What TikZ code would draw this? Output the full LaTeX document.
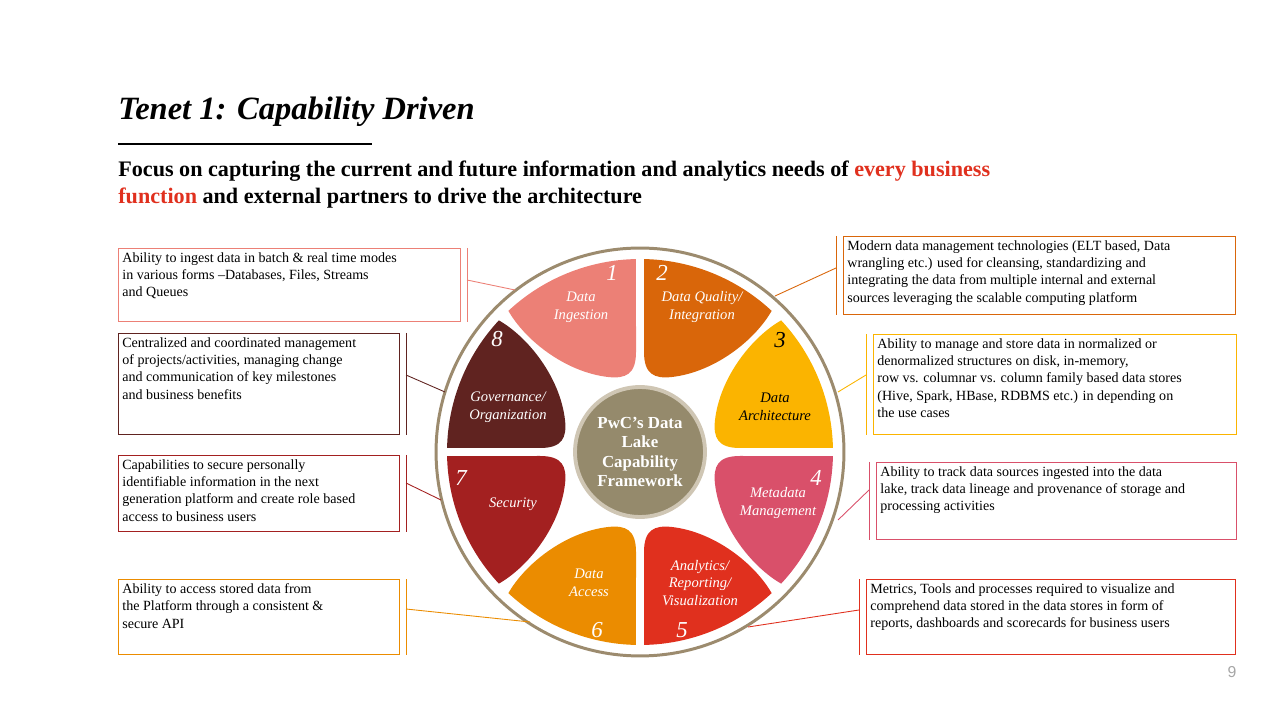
\documentclass[tikz,border=0pt]{standalone}
\usepackage{fontspec}
\setmainfont{Liberation Serif}
\setsansfont{Liberation Sans}
\usepackage{tikz}
\usetikzlibrary{positioning}
\definecolor{pA}{HTML}{EC8076}
\definecolor{pB}{HTML}{D9660A}
\definecolor{pC}{HTML}{FBB400}
\definecolor{pD}{HTML}{D9506A}
\definecolor{pE}{HTML}{E0301E}
\definecolor{pF}{HTML}{EB8C00}
\definecolor{pG}{HTML}{A32020}
\definecolor{pH}{HTML}{602320}
\definecolor{ring}{HTML}{9C8B6E}
\definecolor{hub}{HTML}{958A6C}
\definecolor{hubrim}{HTML}{CFC6B4}
\tikzset{
  % text boxes around the wheel
  desc/.style={
    draw=#1, anchor=north west, inner sep=0.08cm,
    font=\fontsize{8}{9.9}\selectfont
  },
  % thin bracket lines and leaders
  lead/.style={draw=#1, line width=0.5pt},
  % petal captions
  plabel/.style={
    text=white, align=center, font=\fontsize{8.3}{10}\selectfont\itshape
  },
  num/.style={text=white, font=\fontsize{13}{13}\selectfont\itshape}
}
\begin{document}
\begin{tikzpicture}[x=0.02cm, y=0.02cm]
  \useasboundingbox (0,0) rectangle (1280,720);

  % title block
  \node[anchor=base west, inner sep=0, font=\fontsize{18.5}{20}\selectfont\bfseries\itshape] (title) at (118,600) {Tenet 1: Capability Driven};
  \draw[line width=1pt] (118,576) -- (372,576);
  \node[anchor=base west, inner sep=0, align=left, font=\fontsize{12.6}{15.9}\selectfont\bfseries] (focus) at (118,516)
    {Focus on capturing the current and future information and analytics needs of \textcolor{pE}{every business}\\
     \textcolor{pE}{function} and external partners to drive the architecture};

  % wheel
  \draw[ring, line width=1.7pt] (640,268) circle (4.08cm);
  \foreach \k/\rot/\flip/\col in {1/0/-1/pA, 2/0/1/pB, 3/-90/-1/pC, 4/-90/1/pD,
                                  5/-180/-1/pE, 6/-180/1/pF, 7/90/-1/pG, 8/90/1/pH}{
    \begin{scope}[shift={(640,268)}, rotate=\rot, xscale=\flip]
      \fill[\col] (88.8:193) -- (4,100) .. controls (4,78) and (14,73) .. (32,75)
        .. controls (75,80) and (115,112) .. (47:193)
        arc[start angle=47, end angle=88.8, radius=3.86cm] -- cycle;
    \end{scope}
  }
  \node[circle, fill=hub, draw=hubrim, line width=2.2pt, minimum size=2.6cm,
        text=white, align=center, font=\fontsize{9.6}{11}\selectfont\bfseries] (hubnode) at (640,268)
    {PwC’s Data\\Lake\\Capability\\Framework};

  % numbers
  \node[num] (n1) at (612,447) {1};
  \node[num] (n2) at (662,447) {2};
  \node[num, text=black] (n3) at (780,380) {3};
  \node[num] (n4) at (816,242) {4};
  \node[num] (n5) at (682,90) {5};
  \node[num] (n6) at (597,90) {6};
  \node[num] (n7) at (461,242) {7};
  \node[num] (n8) at (497,381) {8};

  % captions
  \node[plabel] (c1) at (581,413) {Data\\Ingestion};
  \node[plabel] (c2) at (702,413) {Data Quality/\\Integration};
  \node[plabel, text=black] (c3) at (775,313) {Data\\Architecture};
  \node[plabel] (c4) at (778,217) {Metadata\\Management};
  \node[plabel] (c5) at (700,137) {Analytics/\\Reporting/\\Visualization};
  \node[plabel] (c6) at (589,137) {Data\\Access};
  \node[plabel] (c7) at (513,216) {Security};
  \node[plabel] (c8) at (508,313) {Governance/\\Organization};

  % left descriptions
  \node[desc=pA] (b1) at (118,472) {\parbox[c][1.3cm][t]{6.68cm}{\raggedright
    Ability to ingest data in batch \& real time modes\\in various forms –Databases, Files, Streams\\and Queues}};
  \node[desc=pH] (b8) at (118,387) {\parbox[c][1.86cm][t]{5.46cm}{\raggedright
    Centralized and coordinated management\\of projects/activities, managing change\\and communication of key milestones\\and business benefits}};
  \node[desc=pG] (b7) at (118,265) {\parbox[c][1.36cm][t]{5.46cm}{\raggedright
    Capabilities to secure personally\\identifiable information in the next\\generation platform and create role based\\access to business users}};
  \node[desc=pF] (b6) at (118,141) {\parbox[c][1.34cm][t]{5.46cm}{\raggedright
    Ability to access stored data from\\the Platform through a consistent \&\\secure API}};

  % right descriptions
  \node[desc=pB] (b2) at (843,484) {\parbox[c][1.4cm][t]{7.68cm}{\raggedright
    Modern data management technologies (ELT based, Data\\wrangling etc.) used for cleansing, standardizing and\\integrating the data from multiple internal and external\\sources leveraging the scalable computing platform}};
  \node[desc=pC] (b3) at (873,386) {\parbox[c][1.84cm][t]{7.1cm}{\raggedright
    Ability to manage and store data in normalized or\\denormalized structures on disk, in-memory,\\row vs. columnar vs. column family based data stores\\(Hive, Spark, HBase, RDBMS etc.) in depending on\\the use cases}};
  \node[desc=pD] (b4) at (876,258) {\parbox[c][1.38cm][t]{7.04cm}{\raggedright
    Ability to track data sources ingested into the data\\lake, track data lineage and provenance of storage and\\processing activities}};
  \node[desc=pE] (b5) at (866,141) {\parbox[c][1.34cm][t]{7.22cm}{\raggedright
    Metrics, Tools and processes required to visualize and\\comprehend data stored in the data stores in form of\\reports, dashboards and scorecards for business users}};

  % brackets and leaders
  \foreach \b/\vx/\vy/\wx/\wy/\col in {b1/467/440/515/430/pA, b8/406/345/445/328/pH,
      b7/406/237/441/220/pG, b6/406/111/530/98/pF, b2/836/452/775/424/pB,
      b3/866/345/838/328/pC, b4/869/230/838/200/pD, b5/859/110/748/93/pE}{
    \coordinate (v\b) at (\vx,\vy);
    \coordinate (w\b) at (\wx,\wy);
    \draw[lead=\col] (v\b |- \b.north) -- (v\b |- \b.south);
    \draw[lead=\col] (v\b) -- (w\b);
  }

  % page number
  \node[text=gray!70, font=\sffamily\fontsize{9}{9}\selectfont] (page) at (1232,48) {9};
\end{tikzpicture}
\end{document}
